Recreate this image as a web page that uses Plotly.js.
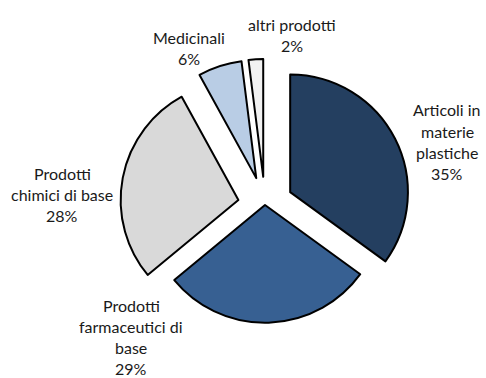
<!DOCTYPE html>
<html>
<head>
<meta charset="utf-8">
<script src="https://cdn.plot.ly/plotly-3.0.1.min.js"></script>
<style>html,body{margin:0;padding:0;background:#fff;}#chart{width:486px;height:378px;}</style>
</head>
<body>
<div id="chart"></div>
<script>
// Data
const labels = ["Articoli in materie plastiche", "Prodotti farmaceutici di base", "Prodotti chimici di base", "Medicinali", "altri prodotti"];
const values = [35, 29, 28, 6, 2];
const labelLines = [
  ["Articoli in", "materie", "plastiche"],
  ["Prodotti", "farmaceutici di", "base"],
  ["Prodotti", "chimici di base"],
  ["Medicinali"],
  ["altri prodotti"]
];
const colors = ["#243F60", "#376092", "#D9D9D9", "#B9CDE5", "#F2F2F2"];
const pulls = [0.24, 0, 0.23, 0.24, 0.24];

// Label placement (pixel centers of first line) - styling only
const W = 486, H = 378;
const labelPos = [[447, 110], [131, 305], [62, 173], [189, 37], [292, 24]];
const lineGap = 21.3;

const annotations = [];
labels.forEach((lab, i) => {
  const lines = labelLines[i].concat([values[i] + "%"]);
  lines.forEach((ln, j) => {
    annotations.push({
      xref: "paper", yref: "paper",
      x: labelPos[i][0] / W,
      y: 1 - (labelPos[i][1] + j * lineGap) / H,
      xanchor: "center", yanchor: "middle",
      text: ln, showarrow: false,
      font: {family: "Lato, 'Open Sans', sans-serif", size: 16, color: "#1a1a1a"}
    });
  });
});

const trace = {
  type: "pie",
  labels: labels,
  values: values,
  sort: false,
  direction: "clockwise",
  rotation: 0,
  pull: pulls,
  textinfo: "none",
  hoverinfo: "label+percent",
  marker: {colors: colors, line: {color: "#000", width: 2}},
  domain: {x: [119 / W, 411 / W], y: [27 / H, 319 / H]},
  showlegend: false
};

Plotly.newPlot("chart", [trace], {
  width: W, height: H,
  margin: {l: 0, r: 0, t: 0, b: 0},
  paper_bgcolor: "#fff",
  showlegend: false,
  annotations: annotations
}, {displayModeBar: false, staticPlot: true});
</script>
</body>
</html>
